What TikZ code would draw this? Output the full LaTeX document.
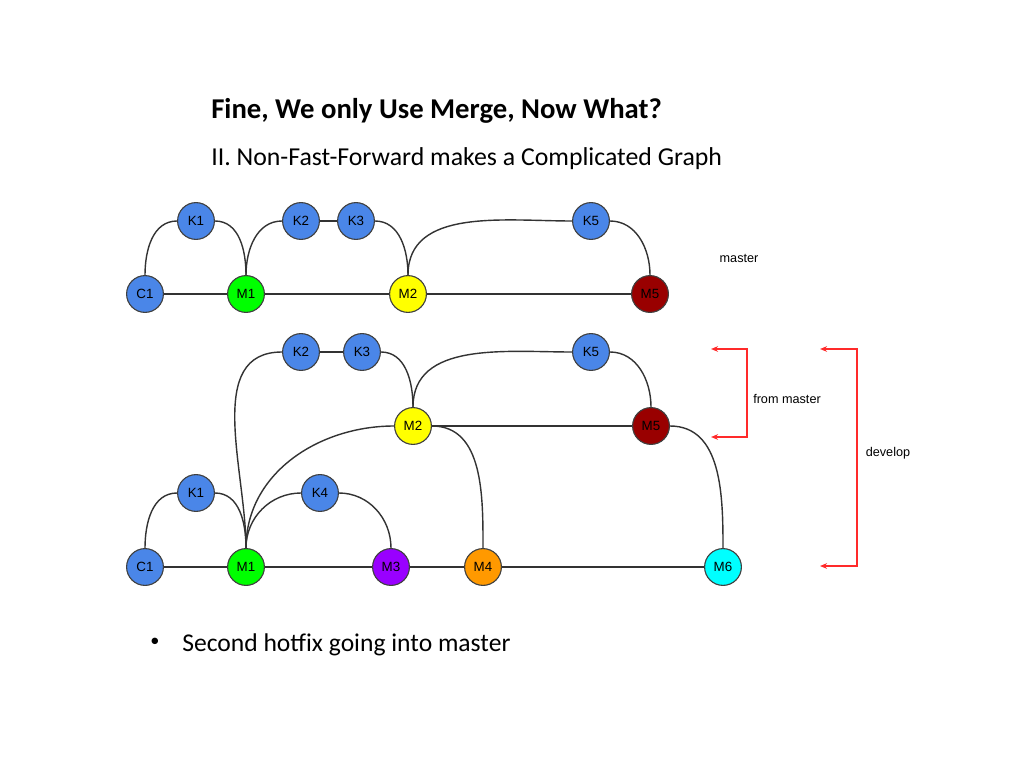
\documentclass[tikz,border=0pt]{standalone}
\usepackage{fontspec}
\setmainfont{Carlito}
\newfontfamily\arialfont{Liberation Sans}
\usetikzlibrary{arrows.meta, positioning, calc}
\definecolor{kblue}{HTML}{4A86E8}
\definecolor{mgreen}{HTML}{00FF00}
\definecolor{myellow}{HTML}{FFFF00}
\definecolor{mdarkred}{HTML}{990000}
\definecolor{mpurple}{HTML}{9900FF}
\definecolor{morange}{HTML}{FF9900}
\definecolor{mcyan}{HTML}{00FFFF}
\definecolor{redarrow}{HTML}{FF2A2A}
\tikzset{
    commit/.style={circle, draw=black!75, line width=0.8pt, minimum size=0.92cm, inner sep=0pt, font=\arialfont\fontsize{9.5}{11}\selectfont},
    kc/.style={commit, fill=kblue},
    edge/.style={line width=1pt, black!80},
    bracket/.style={redarrow, line width=0.8pt, -{Stealth[length=5pt, width=4pt]}},
    lbl/.style={font=\arialfont\fontsize{9}{11}\selectfont}
}

\begin{document}
\begin{tikzpicture}[x=0.025cm, y=0.025cm]
    \useasboundingbox (0,0) rectangle (1024,-768);

    % Heading
    \node[anchor=base west, inner sep=0pt, font=\bfseries\fontsize{20.4}{24}\selectfont] (title) at (211,-119) {Fine, We only Use Merge, Now What?};
    \node[anchor=base west, inner sep=0pt, font=\fontsize{18.35}{22}\selectfont] (subtitle) at (211,-166) {II. Non-Fast-Forward makes a Complicated Graph};

    % Graph 1 : master
    \node[kc] (tC1) at (145,-294) {C1};
    \node[commit, fill=mgreen] (tM1) at (246,-294) {M1};
    \node[commit, fill=myellow] (tM2) at (408,-294) {M2};
    \node[commit, fill=mdarkred] (tM5) at (650,-294) {M5};
    \node[kc] (tK1) at (196,-221) {K1};
    \node[kc] (tK2) at (301,-221) {K2};
    \node[kc] (tK3) at (356,-221) {K3};
    \node[kc] (tK5) at (591,-221) {K5};
    \node[lbl] (master) at (739,-258) {master};

    \draw[edge] (tC1) -- (tM1) -- (tM2) -- (tM5);
    \draw[edge] (tC1.north) to[out=90, in=180] (tK1.west);
    \draw[edge] (tK1.east) to[out=0, in=90] (tM1.north);
    \draw[edge] (tM1.north) to[out=90, in=180] (tK2.west);
    \draw[edge] (tK2) -- (tK3);
    \draw[edge] (tK3.east) to[out=0, in=90] (tM2.north);
    \draw[edge] (tM2.north) to[out=90, in=180] (tK5.west);
    \draw[edge] (tK5.east) to[out=0, in=90] (tM5.north);

    % Graph 2 : develop
    \node[kc] (bC1) at (145,-567) {C1};
    \node[commit, fill=mgreen] (bM1) at (246,-567) {M1};
    \node[commit, fill=mpurple] (bM3) at (391,-567) {M3};
    \node[commit, fill=morange] (bM4) at (483,-567) {M4};
    \node[commit, fill=mcyan] (bM6) at (723,-567) {M6};
    \node[kc] (bK1) at (196,-493) {K1};
    \node[kc] (bK4) at (320,-493) {K4};
    \node[commit, fill=myellow] (bM2) at (413,-426) {M2};
    \node[commit, fill=mdarkred] (bM5) at (651,-426) {M5};
    \node[kc] (bK2) at (301,-352) {K2};
    \node[kc] (bK3) at (362,-352) {K3};
    \node[kc] (bK5) at (591,-352) {K5};

    \draw[edge] (bC1) -- (bM1) -- (bM3) -- (bM4) -- (bM6);
    \draw[edge] (bM2) -- (bM5);
    \draw[edge] (bC1.north) to[out=90, in=180] (bK1.west);
    \draw[edge] (bK1.east) to[out=0, in=90] (bM1.north);
    \draw[edge] (bM1.north) to[out=90, in=180] (bK4.west);
    \draw[edge] (bK4.east) to[out=0, in=90] (bM3.north);
    \draw[edge] (bM1.north) to[out=90, in=180] (bM2.west);
    \draw[edge] (bM1.north) to[out=90, in=180] (bK2.west);
    \draw[edge] (bK2) -- (bK3);
    \draw[edge] (bK3.east) to[out=0, in=90] (bM2.north);
    \draw[edge] (bM2.north) to[out=90, in=180] (bK5.west);
    \draw[edge] (bK5.east) to[out=0, in=90] (bM5.north);
    \draw[edge] (bM2.east) to[out=0, in=90] (bM4.north);
    \draw[edge] (bM5.east) to[out=0, in=90] (bM6.north);

    % Brackets
    \coordinate (fmTop) at (711,-349);
    \coordinate (fmBot) at (711,-437);
    \coordinate (dvTop) at (820,-349);
    \coordinate (dvBot) at (820,-566);
    \draw[bracket] ($(fmTop)+(36,0)$) -- ($(fmBot)+(36,0)$) -- (fmBot);
    \draw[bracket] ($(fmBot)+(36,0)$) -- ($(fmTop)+(36,0)$) -- (fmTop);
    \draw[bracket] ($(dvTop)+(37,0)$) -- ($(dvBot)+(37,0)$) -- (dvBot);
    \draw[bracket] ($(dvBot)+(37,0)$) -- ($(dvTop)+(37,0)$) -- (dvTop);
    \node[lbl] (frommaster) at (787,-399) {from master};
    \node[lbl] (develop) at (888,-453) {develop};

    % Bullet
    \node[inner sep=0pt, font=\fontsize{13}{16}\selectfont] (bullet) at (155,-642) {\textbullet};
    \node[anchor=base west, inner sep=0pt, font=\fontsize{18.2}{22}\selectfont] (hotfix) at (182,-651) {Second hotfix going into master};
\end{tikzpicture}
\end{document}
